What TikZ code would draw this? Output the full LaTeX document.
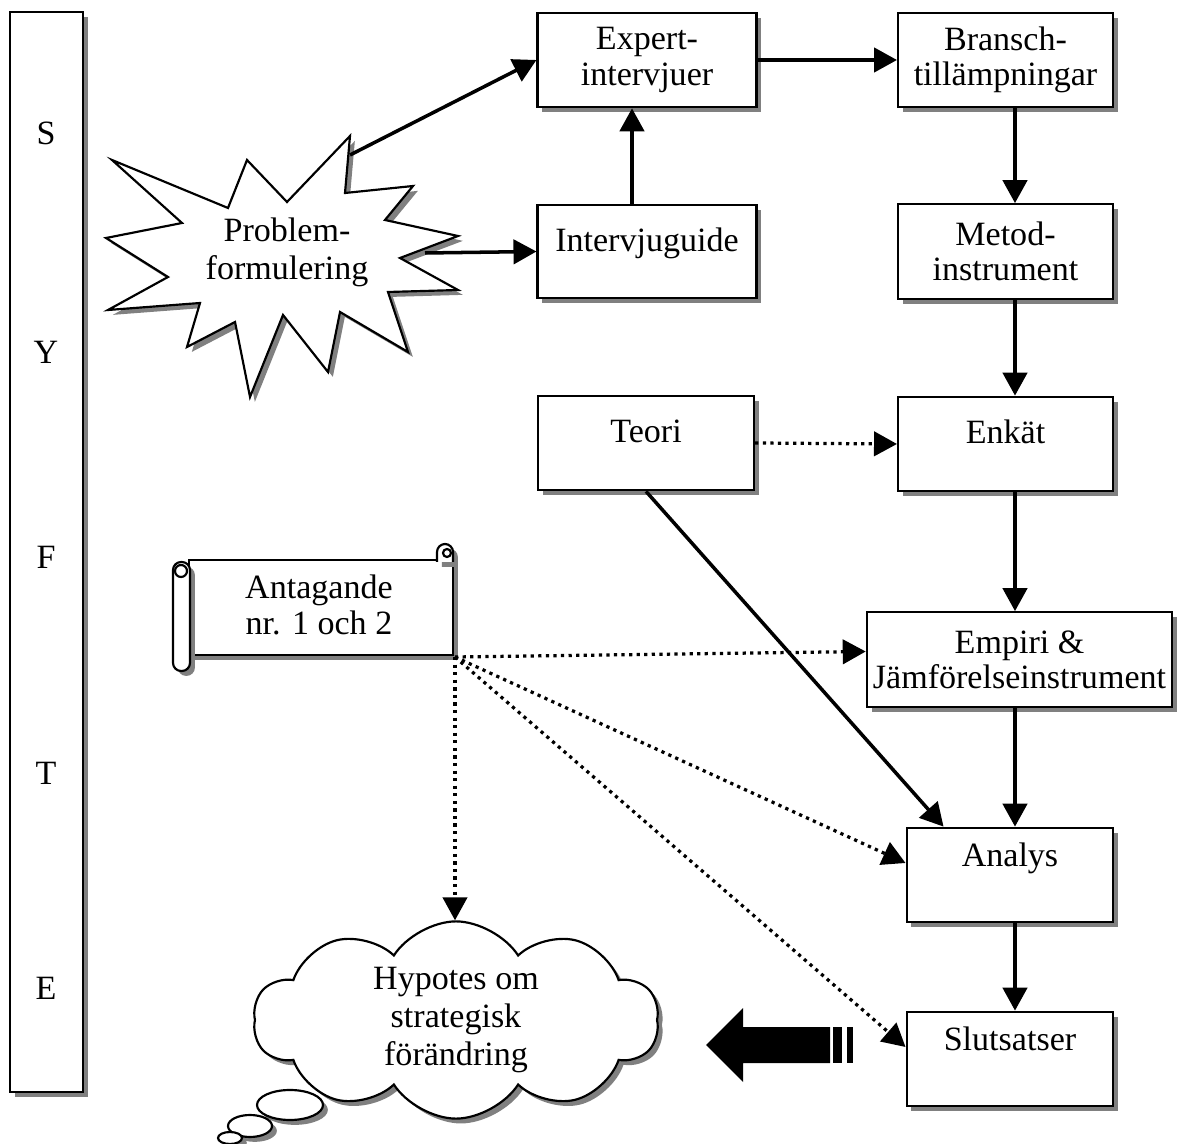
\documentclass[tikz,border=0pt]{standalone}
\usepackage{fontspec}
\setmainfont{Liberation Serif}
\usetikzlibrary{shapes}
\usetikzlibrary{shapes.symbols}
\usetikzlibrary{arrows.meta}
\usetikzlibrary{calc}
\usetikzlibrary{shadows}

\begin{document}
\begin{tikzpicture}[
		x=0.37pt,
		y=-0.37pt,
		font=\fontsize{12.6pt}{13pt}\selectfont,
		>={Triangle[length=8.5pt,width=9pt]},
		line width=0.8pt
	]
		\tikzset{
			boxshadow/.style={drop shadow={shadow xshift=1.8pt,shadow yshift=-1.8pt,fill=black!50,opacity=1}},
			stepbox/.style={
				draw,
				rectangle,
				fill=white,
				boxshadow,
				align=center,
				inner sep=0,
				minimum height=35pt,
			},
			oneline/.style={text height=8pt, text depth=8pt},
			lowline/.style={text height=8pt, text depth=14pt},
			flow/.style={->, line width=1.3pt},
			hint/.style={->, line width=1.2pt, dash pattern=on 1.2pt off 1.6pt},
		}

		\useasboundingbox (0,0) rectangle (1183,1144);

		% side bar
		\node[draw, fill=white, boxshadow, minimum width=27pt, minimum height=399.6pt, inner sep=0] (bar) at (46.5,552) {};
		\foreach \ch/\yy in {S/133, Y/352, F/557, T/773, E/988}
			\node (bar-\ch) at (46,\yy) {\ch};

		% problem star
		\filldraw[fill=white, boxshadow] (112,160) -- (228,208) -- (247,160) -- (287,202) -- (350,136)
			-- (345,193) -- (413,186) -- (385,220) -- (458,236) -- (400,258) -- (458,290) -- (388,292)
			-- (408,352) -- (340,312) -- (328,372) -- (283,315) -- (250,397) -- (235,322) -- (187,347)
			-- (200,303) -- (108,310) -- (168,277) -- (106,238) -- (182,223) -- cycle;
		\node[align=center, font=\fontsize{12.6pt}{14pt}\selectfont] (prob) at (287,252) {Problem-\\formulering};
		\coordinate (probtop) at (350,155);
		\coordinate (probright) at (425,253);

		% boxes
		\node[stepbox, minimum width=81pt] (expert) at (647,60) {Expert-\\intervjuer};
		\node[stepbox, minimum width=79.5pt] (bransch) at (1005.5,60) {Bransch-\\tillämpningar};
		\node[stepbox, oneline, minimum width=81pt, minimum height=34.5pt] (guide) at (647,251.5) {Intervjuguide};
		\node[stepbox, minimum width=79.5pt] (metod) at (1005.5,251.5) {Metod-\\instrument};
		\node[stepbox, oneline, minimum width=80pt] (teori) at (646,443) {Teori};
		\node[stepbox, oneline, minimum width=79.5pt] (enkat) at (1005.5,444) {Enkät};
		\node[stepbox, minimum width=113pt] (empiri) at (1019.5,659.5) {Empiri \&\\Jämförelseinstrument};
		\node[stepbox, lowline, minimum width=76.5pt] (analys) at (1010,875) {Analys};
		\node[stepbox, lowline, minimum width=76.5pt] (slut) at (1010,1059) {Slutsatser};
		\coordinate (spine) at (1015,0);

		% scroll
		\filldraw[fill=white, boxshadow] (189,560) rectangle (453,655);
		\filldraw[fill=white, boxshadow] (437,562) -- (437,552) arc[start angle=180, end angle=360, radius=8] -- (453,562);
		\draw (447,553) circle[radius=4];
		\filldraw[fill=white, boxshadow, rounded corners=3pt] (173,562) rectangle (190,671);
		\draw (181,571) circle[radius=6];
		\node[align=center, font=\fontsize{12.6pt}{13.5pt}\selectfont] (antag) at (319,605) {Antagande\\nr. 1 och 2};
		\coordinate (antagcorner) at (455,657);

		% cloud
		\node[cloud, cloud puffs=10, cloud puff arc=115, aspect=2.2, draw, fill=white, boxshadow,
			minimum width=150pt, minimum height=65pt, inner sep=0, align=center,
			font=\fontsize{12.6pt}{14pt}\selectfont] (hyp) at (456,1020) {Hypotes om\\strategisk\\förändring};
		\filldraw[fill=white, boxshadow] (290,1105) ellipse[x radius=33, y radius=15];
		\filldraw[fill=white, boxshadow] (250,1126) ellipse[x radius=22, y radius=11];
		\filldraw[fill=white, boxshadow] (230,1138) ellipse[x radius=12, y radius=6];

		% big arrow
		\fill (706,1045) -- (743,1008) -- (743,1027) -- (830,1027) -- (830,1063) -- (743,1063) -- (743,1082) -- cycle;
		\fill (833,1027) rectangle (842,1063);
		\fill (847,1027) rectangle (853,1063);

		% connectors
		\draw[flow] (probtop) -- (expert.west);
		\draw[flow] (probright) -- (guide.west);
		\draw[flow] ($(guide.north)+(-15,0)$) -- ($(expert.south)+(-15,0)$);
		\draw[flow] (expert.east) -- (bransch.west);
		\draw[flow] (bransch.south -| spine) -- (metod.north -| spine);
		\draw[flow] (metod.south -| spine) -- (enkat.north -| spine);
		\draw[flow] (enkat.south -| spine) -- (empiri.north -| spine);
		\draw[flow] (empiri.south -| spine) -- (analys.north -| spine);
		\draw[flow] (analys.south -| spine) -- (slut.north -| spine);
		\draw[flow] (teori.south) -- ($(analys.north west)+(38,0)$);
		\draw[hint] (teori.east) -- (enkat.west);
		\draw[hint] (antagcorner) -- ($(empiri.west)+(0,-8)$);
		\draw[hint] (antagcorner) -- ($(analys.west)+(0,-12)$);
		\draw[hint] (antagcorner) -- ($(slut.west)+(0,-12)$);
		\draw[hint] (antagcorner) -- (antagcorner |- hyp.north);
	\end{tikzpicture}
\end{document}
